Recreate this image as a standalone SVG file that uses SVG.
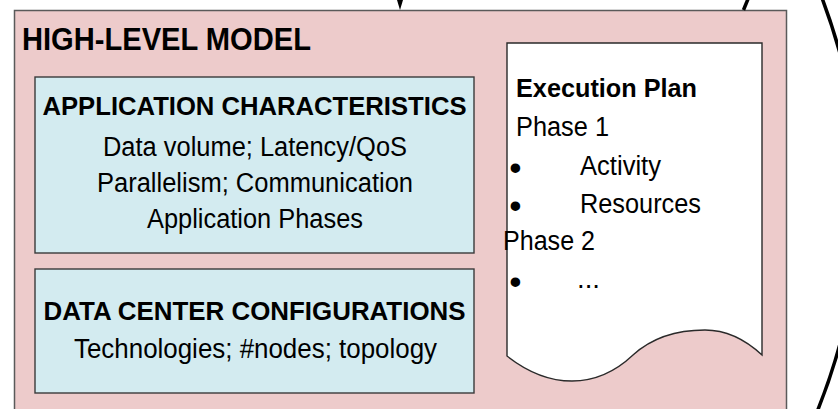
<svg xmlns="http://www.w3.org/2000/svg" width="838" height="409" viewBox="0 0 838 409">
  <style>
    .t { font-family: "Liberation Sans", Arial, sans-serif; fill: #000; }
    .r { font-size: 27px; }
    .b { font-weight: bold; }
    .bul { font-size: 35px; }
    .frame { fill: #edcbcb; stroke: #5a5a5a; stroke-width: 1.5; }
    .box { fill: #d3ebf0; stroke: #3a3a3a; stroke-width: 1.4; }
    .doc { fill: #ffffff; stroke: #2a2a2a; stroke-width: 1.4; }
    .conn { fill: none; stroke: #000; stroke-width: 3.5; }
  </style>
  <rect width="838" height="409" fill="#ffffff"/>

  <!-- outer model container -->
  <g id="high-level-model">
    <rect class="frame" x="14.5" y="10.5" width="772" height="410"/>
    <text class="t b" x="22" y="50" font-size="31" textLength="289" lengthAdjust="spacingAndGlyphs">HIGH-LEVEL MODEL</text>
  </g>

  <g id="application-characteristics">
    <rect class="box" x="35" y="77" width="439" height="176"/>
    <text class="t b" x="254.5" y="115" font-size="26" text-anchor="middle" textLength="424" lengthAdjust="spacingAndGlyphs">APPLICATION CHARACTERISTICS</text>
    <text class="t r" x="255" y="156" text-anchor="middle" textLength="304" lengthAdjust="spacingAndGlyphs">Data volume; Latency/QoS</text>
    <text class="t r" x="255" y="192" text-anchor="middle" textLength="316" lengthAdjust="spacingAndGlyphs">Parallelism; Communication</text>
    <text class="t r" x="255" y="228" text-anchor="middle" textLength="216" lengthAdjust="spacingAndGlyphs">Application Phases</text>
  </g>

  <g id="data-center-configurations">
    <rect class="box" x="35" y="269" width="439" height="124"/>
    <text class="t b" x="254.5" y="320" font-size="26" text-anchor="middle" textLength="422" lengthAdjust="spacingAndGlyphs">DATA CENTER CONFIGURATIONS</text>
    <text class="t r" x="255.5" y="358" text-anchor="middle" textLength="363" lengthAdjust="spacingAndGlyphs">Technologies; #nodes; topology</text>
  </g>

  <!-- document shape with wavy bottom edge -->
  <g id="execution-plan">
    <path class="doc" d="M507,43 H762 V355 C748,342 730,330 705,330 C680,330 655,335 633,355 C615,372 595,381 572,381 C550,381 530,374 507,356 Z"/>
    <text class="t b" x="516" y="97" font-size="26" textLength="181" lengthAdjust="spacingAndGlyphs">Execution Plan</text>
    <text class="t r" x="516" y="136" textLength="93" lengthAdjust="spacingAndGlyphs">Phase 1</text>
    <text class="t bul" x="515.5" y="180" text-anchor="middle">•</text>
    <text class="t r" x="580" y="175" textLength="81" lengthAdjust="spacingAndGlyphs">Activity</text>
    <text class="t bul" x="515.5" y="218" text-anchor="middle">•</text>
    <text class="t r" x="580" y="213" textLength="121" lengthAdjust="spacingAndGlyphs">Resources</text>
    <text class="t r" x="503" y="250" textLength="92" lengthAdjust="spacingAndGlyphs">Phase 2</text>
    <text class="t bul" x="515.5" y="294" text-anchor="middle">•</text>
    <text class="t r" x="577" y="288" textLength="23" lengthAdjust="spacingAndGlyphs">...</text>
  </g>

  <g id="connectors">
    <polygon points="397,0 403,0 400,10" fill="#000"/>
    <line class="conn" x1="748" y1="-1" x2="743.5" y2="10"/>
    <path class="conn" d="M822,-2 Q900,205 817,412"/>
  </g>
</svg>
